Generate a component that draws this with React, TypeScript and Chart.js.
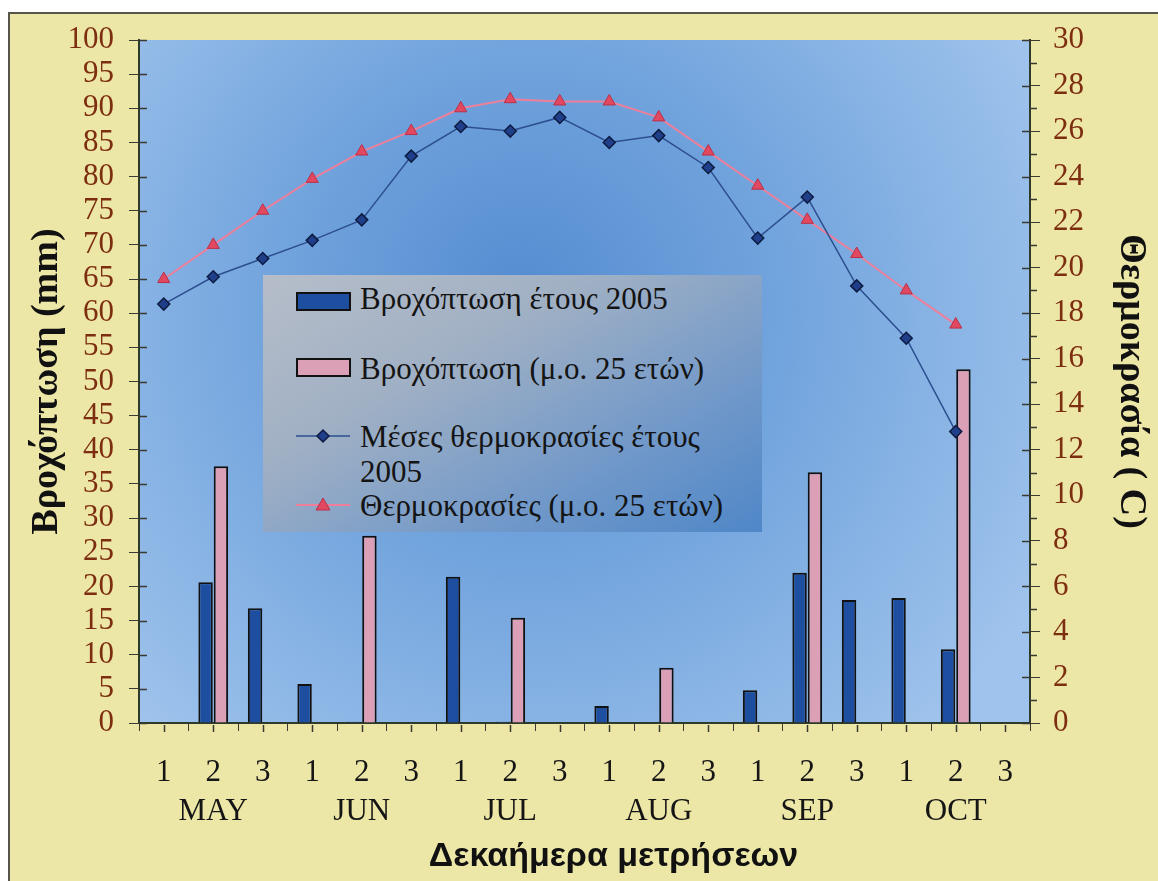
import React, { useEffect, useRef } from "react";
import { Chart, registerables } from "chart.js";
Chart.register(...registerables);

const decades = ["1", "2", "3", "1", "2", "3", "1", "2", "3", "1", "2", "3", "1", "2", "3", "1", "2", "3"];
const months = ["MAY", "JUN", "JUL", "AUG", "SEP", "OCT"];
const rain2005 = [0, 20.6, 16.8, 5.7, 0.2, 0, 21.4, 0.2, 0, 2.5, 0, 0, 4.8, 22.0, 18.0, 18.3, 10.8, 0];
const rainAvg = [0, 37.6, 0, 0, 27.4, 0, 0, 15.4, 0, 0, 8.1, 0, 0, 36.7, 0, 0, 51.8, 0];
const temp2005 = [18.4, 19.6, 20.4, 21.2, 22.1, 24.9, 26.2, 26.0, 26.6, 25.5, 25.8, 24.4, 21.3, 23.1, 19.2, 16.9, 12.8, null];
const tempAvg = [19.5, 21.0, 22.5, 23.9, 25.1, 26.0, 27.0, 27.4, 27.3, 27.3, 26.6, 25.1, 23.6, 22.1, 20.6, 19.0, 17.5, null];
const legendLabels = [
  "Βροχόπτωση έτους 2005",
  "Βροχόπτωση (μ.ο. 25 ετών)",
  "Μέσες θερμοκρασίες έτους 2005",
  "Θερμοκρασίες (μ.ο. 25 ετών)",
];
const xTitle = "Δεκαήμερα μετρήσεων";

const BROWN = "#7E2E10";
const AXIS = "#2E3A2A";
const TICK = "#3a3a32";
const SERIF = "'Liberation Serif', 'DejaVu Serif', serif";
const SANS = "'Liberation Sans', Arial, sans-serif";

const bgPlugin = {
  id: "bgFrame",
  beforeDraw(chart: any) {
    const { ctx, chartArea: a, width, height } = chart;
    ctx.save();
    ctx.fillStyle = "#ffffff";
    ctx.fillRect(0, 0, width, height);
    ctx.fillStyle = "#EDE7A7";
    ctx.fillRect(9, 13, width - 9, height - 13);
    ctx.strokeStyle = "#55554a";
    ctx.lineWidth = 2;
    ctx.beginPath();
    ctx.moveTo(9, height);
    ctx.lineTo(9, 13);
    ctx.lineTo(width, 13);
    ctx.stroke();
    const g = ctx.createRadialGradient(520, 290, 10, 540, 330, 560);
    g.addColorStop(0, "#568ED2");
    g.addColorStop(0.45, "#72A4DD");
    g.addColorStop(1, "#9FC3EC");
    ctx.fillStyle = g;
    ctx.fillRect(a.left, a.top, a.right - a.left, a.bottom - a.top);
    ctx.restore();
  },
  afterDraw(chart: any) {
    const { ctx, chartArea: a, scales, height } = chart;
    ctx.save();
    ctx.strokeStyle = TICK;
    ctx.lineWidth = 1.5;
    ctx.beginPath();
    scales.y.ticks.forEach((t: any) => {
      const py = Math.round(scales.y.getPixelForValue(t.value)) + 0.5;
      ctx.moveTo(a.left, py);
      ctx.lineTo(a.left + 8, py);
    });
    for (let v = 0; v <= 30; v++) {
      const py = Math.round(scales.y1.getPixelForValue(v)) + 0.5;
      if (v % 2 === 0) {
        ctx.moveTo(a.right - 8, py);
        ctx.lineTo(a.right, py);
      } else {
        ctx.moveTo(a.right, py);
        ctx.lineTo(a.right + 7, py);
      }
    }
    const n = decades.length;
    for (let i = 0; i < n; i++) {
      const px = Math.round(scales.x.getPixelForValue(i)) + 0.5;
      ctx.moveTo(px, a.bottom + 2);
      ctx.lineTo(px, a.bottom + 9);
    }
    ctx.stroke();
    // x axis title (slightly right of centre, as in the original)
    ctx.fillStyle = "#111";
    ctx.font = `bold 34px ${SANS}`;
    ctx.textAlign = "center";
    ctx.textBaseline = "middle";
    ctx.fillText(xTitle, (a.left + a.right) / 2 + 29, height - 24);
    ctx.restore();
  },
};

export default function App() {
  const ref = useRef<HTMLCanvasElement | null>(null);
  useEffect(() => {
    if (!ref.current) return;
    const labels = decades.map((d, i) => [d, i % 3 === 1 ? months[Math.floor(i / 3)] : ""]);
    const tickFont = { family: SERIF, size: 31, lineHeight: 1.258 };
    const chart = new Chart(ref.current, {
      type: "bar",
      data: {
        labels,
        datasets: [
          {
            type: "bar",
            label: legendLabels[0],
            data: rain2005,
            yAxisID: "y",
            backgroundColor: "#1E4E9F",
            borderColor: "#111111",
            borderWidth: 2,
            categoryPercentage: 0.62,
            barPercentage: 0.94,
            order: 2,
          },
          {
            type: "bar",
            label: legendLabels[1],
            data: rainAvg,
            yAxisID: "y",
            backgroundColor: "#DBA0B6",
            borderColor: "#111111",
            borderWidth: 2,
            categoryPercentage: 0.62,
            barPercentage: 0.94,
            order: 2,
          },
          {
            type: "line",
            label: legendLabels[2],
            data: temp2005,
            yAxisID: "y1",
            borderColor: "#2D4F8F",
            borderWidth: 1.5,
            pointStyle: "rectRot",
            pointRadius: 6,
            pointBackgroundColor: "#1F3F8A",
            pointBorderColor: "#0D1B40",
            pointBorderWidth: 1.5,
            tension: 0,
            order: 0,
          },
          {
            type: "line",
            label: legendLabels[3],
            data: tempAvg,
            yAxisID: "y1",
            borderColor: "#EE7F9A",
            borderWidth: 2,
            pointStyle: "triangle",
            pointRadius: 7,
            pointBackgroundColor: "#E2485F",
            pointBorderColor: "#B8304A",
            pointBorderWidth: 1,
            tension: 0,
            order: 1,
          },
        ] as any,
      },
      options: {
        responsive: false,
        animation: false,
        layout: { padding: { top: 40, left: 0, right: 0, bottom: 0 } },
        plugins: { legend: { display: false }, tooltip: { enabled: false } },
        scales: {
          x: {
            offset: true,
            grid: { display: true, drawOnChartArea: false, offset: true, tickLength: 8, color: TICK },
            border: { color: AXIS, width: 2 },
            ticks: { autoSkip: false, maxRotation: 0, minRotation: 0, color: "#151515", font: tickFont, padding: 22.5 },
            title: { display: false, text: xTitle },
            afterFit(s: any) {
              s.height = 158;
            },
          },
          y: {
            position: "left",
            min: 0,
            max: 100,
            ticks: { stepSize: 5, autoSkip: false, color: BROWN, font: { family: SERIF, size: 31 }, padding: 15 },
            grid: { drawOnChartArea: false, tickLength: 10, color: TICK },
            border: { color: AXIS, width: 2 },
            title: {
              display: true,
              text: "Βροχόπτωση (mm)",
              color: "#111",
              font: { family: SERIF, size: 38, weight: "bold" },
              padding: { top: 24, bottom: 0 },
            },
            afterFit(s: any) {
              s.width = 139;
            },
          },
          y1: {
            position: "right",
            min: 0,
            max: 30,
            ticks: { stepSize: 2, autoSkip: false, color: BROWN, font: { family: SERIF, size: 31 }, padding: 13 },
            grid: { drawOnChartArea: false, tickLength: 10, color: TICK },
            border: { color: AXIS, width: 2 },
            title: {
              display: true,
              text: "Θερμοκρασία ( C)",
              color: "#111",
              font: { family: SERIF, size: 38, weight: "bold" },
              padding: { top: 4, bottom: 0 },
            },
            afterFit(s: any) {
              s.width = 128;
            },
          },
        },
      } as any,
      plugins: [bgPlugin],
    });
    return () => chart.destroy();
  }, []);

  const textStyle = (top: number): React.CSSProperties => ({
    position: "absolute",
    left: 97,
    top,
    lineHeight: "35px",
    whiteSpace: "nowrap",
  });

  return (
    <div style={{ position: "absolute", left: 0, top: 0, width: 1158, height: 881, overflow: "hidden" }}>
      <canvas ref={ref} width={1158} height={881} style={{ display: "block" }} />
      <div
        style={{
          position: "absolute",
          left: 263,
          top: 275,
          width: 499,
          height: 257,
          background: "linear-gradient(150deg, #B6BDC9 0%, #A0B0C4 35%, #7299C9 70%, #4F87C8 100%)",
          fontFamily: SERIF,
          fontSize: 31,
          color: "#141414",
        }}
      >
        <div style={{ position: "absolute", left: 33, top: 17, width: 51, height: 15, background: "#1E4E9F", border: "2px solid #111" }} />
        <div style={textStyle(6)}>{legendLabels[0]}</div>
        <div style={{ position: "absolute", left: 33, top: 83, width: 51, height: 15, background: "#DBA0B6", border: "2px solid #111" }} />
        <div style={textStyle(76)}>{legendLabels[1]}</div>
        <svg style={{ position: "absolute", left: 33, top: 151, overflow: "visible" }} width={54} height={20}>
          <line x1={0} y1={10} x2={54} y2={10} stroke="#2D4F8F" strokeWidth={1.5} />
          <polygon points="27,4 33,10 27,16 21,10" fill="#1F3F8A" stroke="#0D1B40" strokeWidth={1.5} />
        </svg>
        <div style={{ ...textStyle(144), whiteSpace: "normal", width: 380 }}>{legendLabels[2]}</div>
        <svg style={{ position: "absolute", left: 33, top: 220, overflow: "visible" }} width={54} height={20}>
          <line x1={0} y1={10} x2={54} y2={10} stroke="#EE7F9A" strokeWidth={2} />
          <polygon points="27,3 34,15 20,15" fill="#E2485F" stroke="#B8304A" strokeWidth={1} />
        </svg>
        <div style={textStyle(213)}>{legendLabels[3]}</div>
      </div>
    </div>
  );
}
